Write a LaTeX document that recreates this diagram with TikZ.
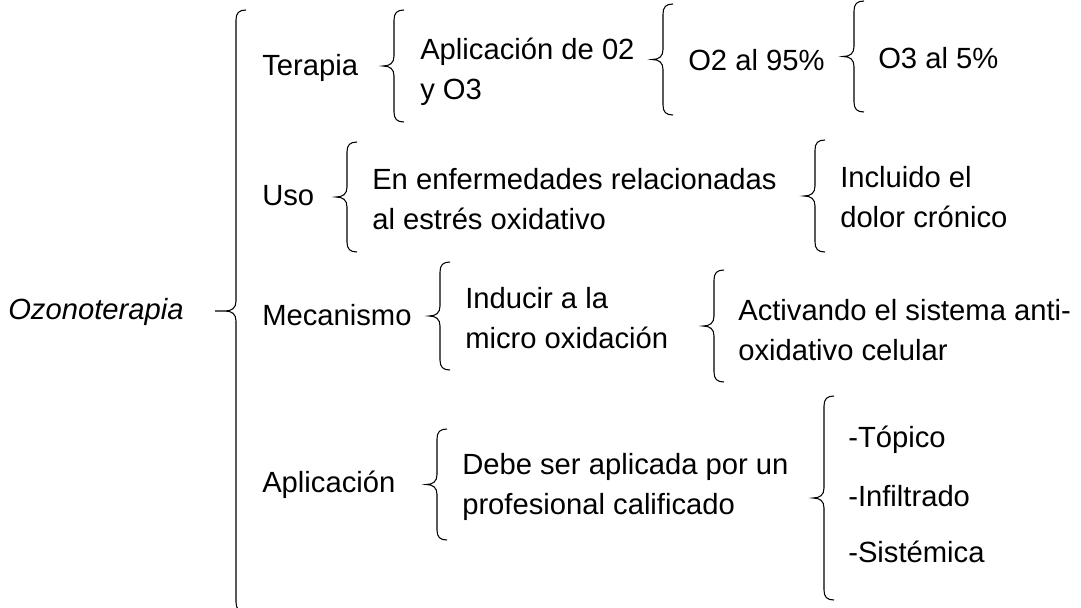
\documentclass[tikz,border=0pt]{standalone}
\usepackage{fontspec}
\setmainfont{Liberation Sans}
\tikzset{
  txt/.style={anchor=west, inner sep=0pt, align=left, font=\fontsize{21.9}{30}\selectfont},
  llave/.style={line width=0.8pt, black},
}
% left curly brace: [tip length] x of the stem, top, bottom
\newcommand{\llave}[4][11]{%
  \pgfmathsetmacro{\ym}{(#3+#4)/2}
  \draw[llave] (#2+10,#3) .. controls (#2+3,#3) and (#2,#3+3) .. (#2,#3+10)
    -- (#2,\ym-10) .. controls (#2,\ym-3) and (#2-4,\ym) .. (#2-11,\ym)
    -- (#2-#1,\ym) -- (#2-11,\ym)
    .. controls (#2-4,\ym) and (#2,\ym+3) .. (#2,\ym+10)
    -- (#2,#4-10) .. controls (#2,#4-3) and (#2+3,#4) .. (#2+10,#4);
}

\begin{document}
\begin{tikzpicture}[x=0.75pt,y=-0.75pt]
  \useasboundingbox (0,0) rectangle (1081,607);
  \clip (0,0) rectangle (1081,607);

  % Root
  \node[txt] (ozono) at (8,312) {\textit{Ozonoterapia}};
  \llave[21]{236}{10}{612}

  % Terapia
  \node[txt] (terapia) at (262,68) {Terapia};
  \llave{394}{10}{122}
  \node[txt] (mezcla) at (420,72) {Aplicación de 02\\y O3};
  \llave{663}{4}{115}
  \node[txt] (odos) at (688,60) {O2 al 95\%};
  \llave{854}{1}{112}
  \node[txt] (otres) at (878,58) {O3 al 5\%};

  % Uso
  \node[txt] (uso) at (262,196) {Uso};
  \llave{347}{142}{252}
  \node[txt] (enfer) at (372,199) {En enfermedades relacionadas\\al estrés oxidativo};
  \llave{815}{140}{252}
  \node[txt] (dolor) at (840,197) {Incluido el\\dolor crónico};

  % Mecanismo
  \node[txt] (meca) at (262,315) {Mecanismo};
  \llave{440}{262}{370}
  \node[txt] (induc) at (465,318) {Inducir a la\\micro oxidación};
  \llave{714}{270}{382}
  \node[txt] (activ) at (738,330) {Activando el sistema anti-\\oxidativo celular};

  % Aplicacion
  \node[txt] (aplic) at (262,485) {Aplicación};
  \llave{437}{429}{540}
  \node[txt] (prof) at (462,487) {Debe ser aplicada por un\\profesional calificado};
  \llave{824}{396}{600}
  \node[txt] (topico) at (848,440) {-Tópico};
  \node[txt] (infil) at (848,496) {-Infiltrado};
  \node[txt] (sist) at (848,552) {-Sistémica};
\end{tikzpicture}
\end{document}
